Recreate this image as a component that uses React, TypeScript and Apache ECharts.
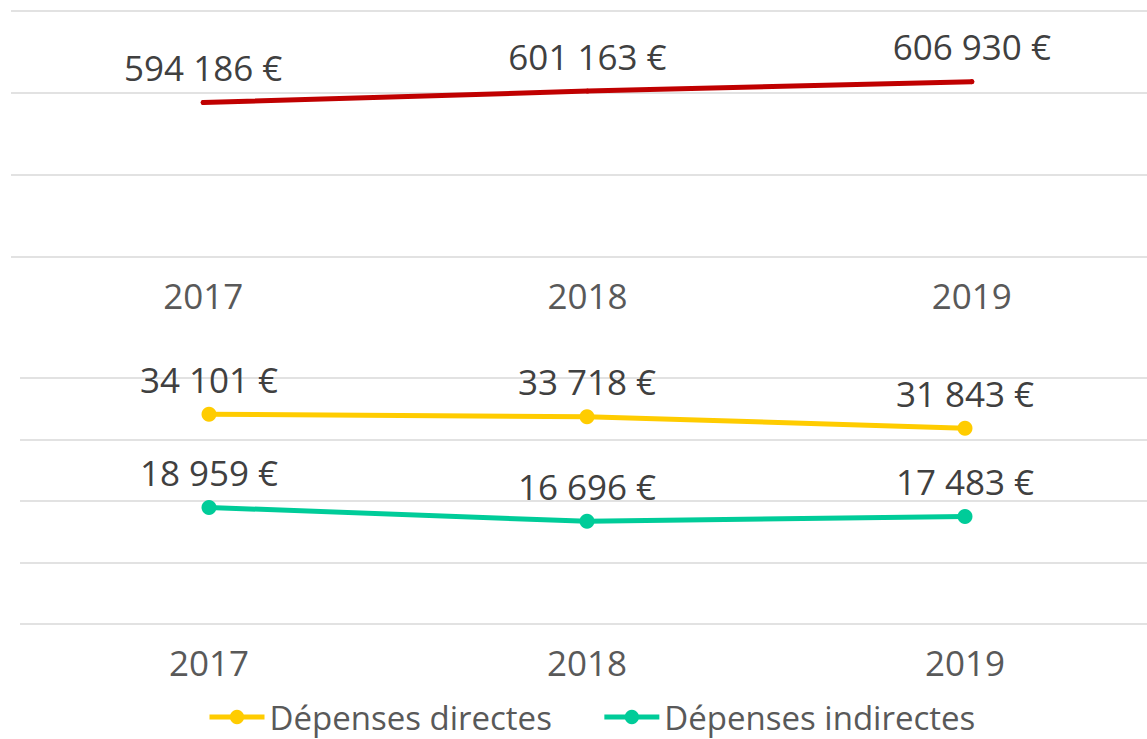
import React, { useEffect, useRef } from "react";
import * as echarts from "echarts";

const years = ["2017", "2018", "2019"];
const totalValues = [594186, 601163, 606930];
const directValues = [34101, 33718, 31843];
const indirectValues = [18959, 16696, 17483];
const topAxis = { min: 500000, max: 650000, interval: 50000 };
const bottomAxis = { min: 0, max: 40000, interval: 10000 };
const seriesNames = ["Total", "Dépenses directes", "Dépenses indirectes"];

const FONT = "Open Sans";
const fmt = (v: number) =>
  String(v).replace(/\B(?=(\d{3})+(?!\d))/g, " ") + " €";

export default function App() {
  const ref = useRef<HTMLDivElement>(null);
  useEffect(() => {
    document.body.style.margin = "0";
    const chart = echarts.init(ref.current!, null, { renderer: "svg" });
    const gridLine = { show: true, lineStyle: { color: "#d9d9d9", width: 1.5 } };
    const xCommon = {
      type: "category" as const,
      data: years,
      axisLine: { show: false },
      axisTick: { show: false },
      axisLabel: { color: "#595959", fontSize: 35, fontFamily: FONT, margin: 21 },
    };
    const yCommon = {
      type: "value" as const,
      axisLine: { show: false },
      axisTick: { show: false },
      axisLabel: { show: false },
      splitLine: gridLine,
    };
    const labelStyle = {
      show: true,
      position: "top" as const,
      color: "#404040",
      fontSize: 35,
      fontFamily: FONT,
      formatter: (p: any) => fmt(p.value),
    };
    chart.setOption({
      animation: false,
      textStyle: { fontFamily: FONT },
      grid: [
        { left: 11, top: 11, width: 1153, height: 246, outerBoundsMode: "none" },
        { left: 20, top: 378, width: 1134, height: 246, outerBoundsMode: "none" },
      ],
      xAxis: [
        { ...xCommon, gridIndex: 0 },
        { ...xCommon, gridIndex: 1 },
      ],
      yAxis: [
        { ...yCommon, gridIndex: 0, ...topAxis },
        { ...yCommon, gridIndex: 1, ...bottomAxis },
      ],
      legend: {
        data: [seriesNames[1], seriesNames[2]],
        left: 202,
        top: 700,
        padding: [0, 5, 0, 5],
        itemWidth: 55,
        itemHeight: 18,
        itemGap: 50,
        lineStyle: { width: 5 },
        textStyle: { color: "#595959", fontSize: 33, lineHeight: 34, fontFamily: FONT },
      },
      series: [
        {
          name: seriesNames[0],
          type: "line",
          xAxisIndex: 0,
          yAxisIndex: 0,
          data: totalValues,
          symbol: "circle",
          symbolSize: 5,
          itemStyle: { color: "#C00000" },
          lineStyle: { color: "#C00000", width: 5, cap: "round" },
          label: { ...labelStyle, distance: 15 },
        },
        {
          name: seriesNames[1],
          type: "line",
          xAxisIndex: 1,
          yAxisIndex: 1,
          data: directValues,
          symbol: "circle",
          symbolSize: 15,
          itemStyle: { color: "#FFCC00" },
          lineStyle: { color: "#FFCC00", width: 5 },
          label: { ...labelStyle, distance: 10 },
        },
        {
          name: seriesNames[2],
          type: "line",
          xAxisIndex: 1,
          yAxisIndex: 1,
          data: indirectValues,
          symbol: "circle",
          symbolSize: 15,
          itemStyle: { color: "#00CC99" },
          lineStyle: { color: "#00CC99", width: 5 },
          label: { ...labelStyle, distance: 10 },
        },
      ],
    });
    return () => chart.dispose();
  }, []);
  return <div ref={ref} style={{ width: 1147, height: 739 }} />;
}
